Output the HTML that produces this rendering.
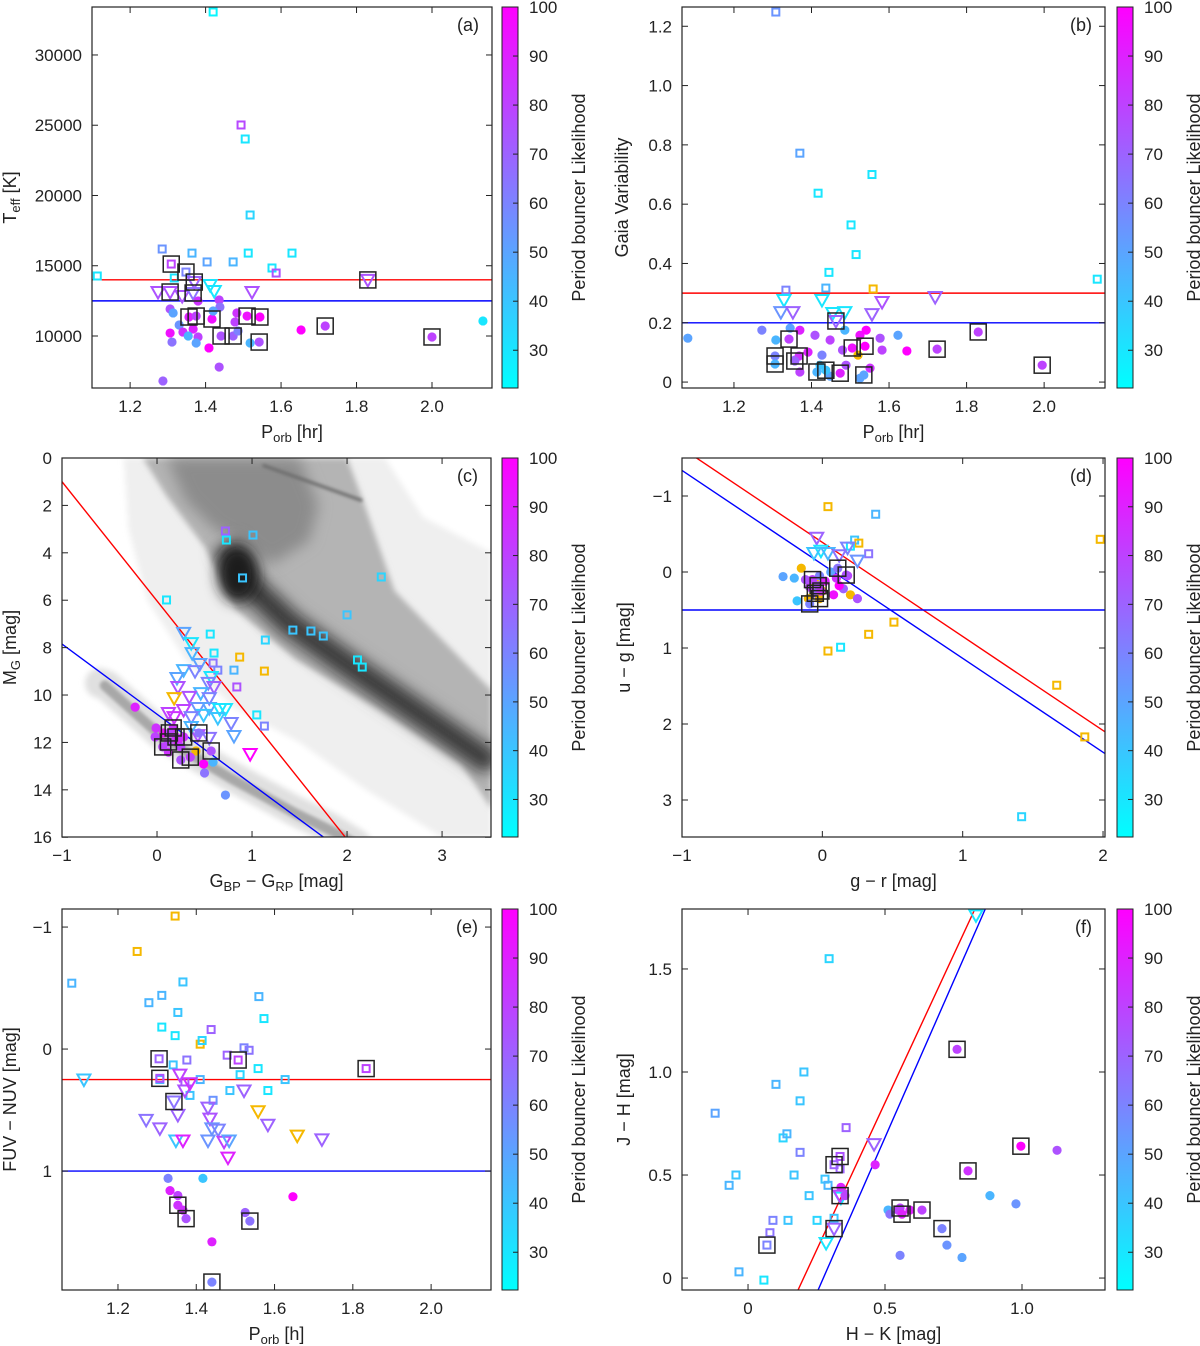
<!DOCTYPE html>
<html><head><meta charset="utf-8">
<style>
html,body{margin:0;padding:0;background:#fff;width:1200px;height:1346px;overflow:hidden;}
svg{display:block;font-family:"Liberation Sans",sans-serif;}
text{fill:#222;}
</style></head>
<body>
<svg id="fig" width="1200" height="1346" viewBox="0 0 1200 1346" xmlns="http://www.w3.org/2000/svg">
<defs>
<linearGradient id="cbgrad" x1="0" y1="1" x2="0" y2="0">
<stop offset="0" stop-color="#00ffff"/><stop offset="1" stop-color="#ff00ff"/>
</linearGradient>
<filter id="blur6" x="-50%" y="-50%" width="200%" height="200%"><feGaussianBlur stdDeviation="7"/></filter>
<filter id="blur3" x="-50%" y="-50%" width="200%" height="200%"><feGaussianBlur stdDeviation="3"/></filter>
<filter id="blur1"><feGaussianBlur stdDeviation="1.5"/></filter>
</defs>
</svg>
<script>
// ---------- Panel (a) data ----------
const aX = [1.42,1.494,1.505,1.518,1.285,1.364,1.404,1.473,1.513,1.629,1.317,1.576,1.587,1.309,1.348,1.274,1.306,1.338,1.367,1.370,1.412,1.423,1.523,1.83,1.113,1.380,1.436,1.306,1.314,1.438,1.356,1.375,1.417,1.42,1.483,1.51,1.544,1.478,1.33,1.367,1.306,1.311,1.34,1.354,1.38,1.375,1.441,1.473,1.486,1.518,1.542,1.409,1.653,1.717,1.436,1.287,2.0,2.135];
const aY = [33060,25017,24020,18610,16190,15900,15270,15270,15900,15900,14130,14840,14480,15120,14550,13130,13130,12850,13060,13840,13630,13200,13130,13990,14270,12490,12560,11920,11640,12060,11350,11420,11210,11780,11640,11420,11350,11000,10780,10500,10210,9570,10280,10000,9930,9500,10000,10000,10360,9500,9570,9150,10430,10710,7790,6800,9930,11070];
const aL = [25,78,30,35,55,45,50,45,30,30,30,30,75,80,60,75,75,75,65,70,30,30,75,75,30,85,80,75,50,65,90,80,95,50,85,95,100,80,55,90,95,65,85,45,80,50,75,70,60,45,75,100,100,80,75,70,80,30];
const aK = "sssssssssssssSSvVvVVvvvVsoooooOOOooOOoooooooooOOooOooOooOo";
// ---------- Panel (b) data ----------
const bX = [1.308,1.37,1.417,1.502,1.556,1.515,1.445,1.437,1.334,1.559,2.137, 1.329,1.321,1.352,1.427,1.455,1.486,1.582,1.556,1.719,1.463, 1.081,1.272,1.308,1.345,1.37,1.409,1.448,1.486,1.525,1.541,1.577,1.623,1.646,1.582,1.48,1.427,1.391,1.357,1.422,1.37,1.489,1.52,1.551,1.448,1.525, 1.505,1.538,1.306,1.306,1.368,1.357,1.342,1.414,1.437,1.474,1.535,1.724,1.83,1.995];
const bY = [1.248,0.772,0.637,0.53,0.70,0.43,0.37,0.317,0.31,0.314,0.347, 0.277,0.236,0.236,0.277,0.233,0.236,0.27,0.229,0.287,0.206, 0.148,0.175,0.142,0.182,0.175,0.158,0.142,0.175,0.158,0.175,0.148,0.158,0.105,0.108,0.108,0.091,0.101,0.074,0.057,0.034,0.057,0.091,0.047,0.02,0.013, 0.115,0.121,0.088,0.061,0.088,0.071,0.145,0.034,0.04,0.03,0.024,0.111,0.169,0.057];
const bL = [55,50,30,30,30,30,30,45,60,-1,30, 30,55,70,30,30,30,75,70,70,70, 50,60,45,50,90,75,80,45,95,100,75,50,100,80,75,60,90,70,40,80,75,-1,85,50,50, 95,100,60,45,85,70,80,45,40,90,50,80,80,80];
const bK = "s".repeat(11) + "v".repeat(9) + "V" + "o".repeat(25) + "O".repeat(14);
// ---------- Panel (c) data ----------
const cX = [0.72,0.73,1.01,0.90,0.10,2.36,0.56,1.14,1.43,1.62,1.75,2.00,2.11,2.16,0.60,0.87,0.59,0.64,0.81,1.13,0.84,1.05,1.13, -0.23,-0.01,-0.02,0.07,0.22,0.12,0.41,0.49,0.59,0.50,0.72,0.25, 0.28,0.36,0.37,0.45,0.28,0.40,0.21,0.57,0.54,0.22,0.60,0.46,0.55,0.34,0.18,0.43,0.55,0.66,0.72,0.28,0.12,0.49,0.36,0.18,0.78,0.64,0.81,0.43,0.55,0.98,0.36, 0.17,0.13,0.06,0.12,0.20,0.28,0.44,0.57,0.35,0.25];
const cY = [3.08,3.46,3.25,5.06,5.99,5.02,7.43,7.68,7.26,7.30,7.51,6.62,8.52,8.82,8.23,8.40,8.65,8.95,8.95,8.99,9.66,10.84,11.31, 10.51,11.39,11.77,11.60,12.03,12.41,12.36,12.91,12.83,13.29,14.22,12.19, 7.38,7.81,8.23,8.69,8.95,8.99,9.28,9.24,9.49,9.66,9.66,9.92,10.13,10.08,10.13,10.55,10.55,10.59,10.59,10.63,10.76,10.84,10.93,10.93,11.18,10.97,11.73,11.69,11.81,12.49,11.35, 11.39,11.60,12.19,11.98,11.77,11.77,11.60,12.36,12.62,12.74];
const cL = [70,30,40,40,30,35,30,35,40,40,40,40,30,30,30,-1,65,60,45,-1,75,30,60, 90,85,80,95,90,85,-1,100,45,65,55,80, 50,30,45,50,45,60,50,30,60,75,70,45,60,75,-1,55,50,30,30,80,80,40,60,85,60,40,50,75,65,100,45, 85,80,80,80,85,85,65,75,80,75];
const cK = "s".repeat(23) + "o".repeat(12) + "v".repeat(31) + "O".repeat(10);
// ---------- Panel (d) data ----------
const dX = [0.04,0.38,0.23,0.26,0.33,0.20,1.98,0.51,0.33,0.13,0.04,1.67,1.87,1.42, -0.04,-0.01,0.04,0.18,0.12,-0.06,0.25, -0.28,-0.2,-0.15,-0.12,-0.09,-0.05,-0.02,0.02,0.06,0.1,0.15,0.2,0.25,0.08,-0.18,-0.1,0.0,0.12,0.18, -0.07,-0.03,-0.05,-0.02,-0.09,0.11,0.17,-0.01];
const dY = [-0.86,-0.76,-0.42,-0.38,-0.24,-0.34,-0.43,0.66,0.82,0.99,1.04,1.49,2.17,3.22, -0.45,-0.28,-0.25,-0.32,-0.22,-0.25,-0.15, 0.06,0.08,-0.05,0.1,0.2,0.15,0.05,0.12,0.0,0.08,0.22,0.3,0.35,0.3,0.38,0.35,0.25,0.18,0.05, 0.1,0.18,0.28,0.35,0.42,-0.05,0.04,0.25];
const dL = [-1,45,40,-1,65,30,-1,-1,-1,30,-1,-1,-1,35, 70,30,45,60,65,40,55, 50,45,-1,75,80,-1,60,90,50,85,70,-1,75,95,40,-1,-1,100,80, 80,75,70,-1,60,65,75,85];
const dK = "s".repeat(14) + "v".repeat(7) + "o".repeat(19) + "O".repeat(8);
// ---------- Panel (e) data ----------
const eX = [1.346,1.249,1.082,1.279,1.312,1.366,1.353,1.312,1.346,1.438,1.41,1.415,1.376,1.479,1.535,1.56,1.573,1.522,1.558,1.512,1.583,1.627,1.486,1.41,1.443,1.371,1.384,1.307,1.341, 1.113,1.272,1.307,1.353,1.348,1.366,1.43,1.435,1.44,1.456,1.43,1.471,1.481,1.484,1.522,1.558,1.583,1.658,1.721,1.358,1.371,1.384, 1.328,1.333,1.353,1.417,1.525,1.647,1.44,1.366, 1.305,1.307,1.343,1.507,1.834,1.353,1.374,1.537,1.44];
const eY = [-1.09,-0.80,-0.54,-0.38,-0.44,-0.55,-0.30,-0.18,-0.11,-0.16,-0.04,-0.07,0.09,0.05,0.01,-0.43,-0.25,-0.01,0.16,0.21,0.34,0.25,0.34,0.25,0.42,0.27,0.38,0.25,0.13, 0.25,0.58,0.65,0.54,0.75,0.75,0.48,0.57,0.65,0.66,0.75,0.76,0.89,0.75,0.34,0.51,0.62,0.71,0.74,0.21,0.34,0.28, 1.06,1.16,1.20,1.06,1.34,1.21,1.58,1.32, 0.08,0.24,0.43,0.09,0.16,1.28,1.39,1.41,1.91];
const eL = [-1,-1,45,45,45,40,40,30,30,70,-1,35,65,70,65,45,30,60,30,35,30,40,40,45,55,75,40,45,40, 40,65,70,70,40,90,70,75,55,60,55,80,90,50,70,-1,70,-1,70,80,75,85, 60,90,80,40,70,100,90,85, 70,75,65,80,80,85,75,65,60];
const eK = "s".repeat(29) + "v".repeat(22) + "o".repeat(8) + "SSVSSOOOO";
// ---------- Panel (f) data ----------
const fX = [-0.12,-0.069,-0.033,0.058,-0.044,0.102,0.128,0.142,0.168,0.19,0.204,0.19,0.223,0.296,0.358,0.252,0.281,0.314,0.08,0.091,0.146,0.292,0.336, 0.46,0.285,0.339,0.832, 0.464,0.511,0.518,0.547,0.591,0.555,0.726,0.781,0.883,0.978,1.128,0.354,0.339, 0.069,0.314,0.336,0.336,0.314,0.763,0.803,0.555,0.562,0.635,0.708,0.996];
const fY = [0.80,0.45,0.03,-0.01,0.50,0.94,0.68,0.70,0.50,0.61,1.0,0.86,0.40,1.55,0.73,0.28,0.48,0.29,0.22,0.28,0.28,0.45,0.53, 0.65,0.17,0.39,1.76, 0.55,0.33,0.31,0.33,0.33,0.11,0.16,0.10,0.40,0.36,0.62,0.40,0.44, 0.16,0.55,0.59,0.40,0.24,1.11,0.52,0.34,0.31,0.33,0.24,0.64];
const fL = [50,45,45,30,40,45,35,45,40,60,40,40,40,35,70,35,40,40,65,60,40,45,70, 70,30,30,30, 90,45,65,80,90,60,55,50,45,55,75,80,90, 60,70,75,80,70,80,85,80,90,80,60,100];
const fK = "s".repeat(23) + "v".repeat(4) + "o".repeat(13) + "SSSVVOOOOOOO";

const NS = 'http://www.w3.org/2000/svg';
const svg = document.getElementById('fig');
function mk(tag, parent, attrs){
  const e = document.createElementNS(NS, tag);
  if (attrs) for (const k in attrs) e.setAttribute(k, attrs[k]);
  (parent || svg).appendChild(e);
  return e;
}
const LMIN = 22.3, LMAX = 100;
function col(L){
  if (L < 0) return '#f5b800';
  const t = Math.max(0, Math.min(1, (L - LMIN) / (LMAX - LMIN)));
  return 'rgb(' + Math.round(255*t) + ',' + Math.round(255*(1-t)) + ',255)';
}

function panel(P){
  const g = mk('g');
  
  
  const [x0,y0,x1,y1] = P.box;
  const sx = v => x0 + (v - P.xd[0]) / (P.xd[1] - P.xd[0]) * (x1 - x0);
  const sy = v => y0 + (v - P.yd[0]) / (P.yd[1] - P.yd[0]) * (y1 - y0);
  const cid = 'clip-' + P.id;
  const cp = mk('clipPath', g, {id: cid});
  mk('rect', cp, {x:x0, y:y0, width:x1-x0, height:y1-y0});
  const inner = mk('g', g, {'clip-path': 'url(#' + cid + ')'});
  
  
  if (P.bg) P.bg(inner, sx, sy);
  P.lines.forEach((ln, i) => {
    let xa = P.xd[0], xb = P.xd[1], ya, yb;
    if (ln.h !== undefined) { ya = yb = ln.h; } else { ya = ln.m*xa + ln.c; yb = ln.m*xb + ln.c; }
    const l = mk('line', inner, {x1:sx(xa), y1:sy(ya), x2:sx(xb), y2:sy(yb), stroke:ln.color, 'stroke-width':1.4});
    
    
  });
  const boxes = [];
  const n = Math.min(P.X.length, P.Y.length, P.L.length);
  for (let i = 0; i < n; i++) {
    const px = sx(P.X[i]), py = sy(P.Y[i]), k = P.K[i] || 'o', c = col(P.L[i]);
    const kl = k.toLowerCase();
    let m;
    if (kl === 'o') {
      m = mk('circle', inner, {cx:px, cy:py, r:4.6, fill:c});
      
    } else if (kl === 's') {
      m = mk('rect', inner, {x:px-3.5, y:py-3.5, width:7, height:7, fill:'none', stroke:c, 'stroke-width':2});
      
    } else {
      m = mk('polygon', inner, {points:(px-6.5)+','+(py-5)+' '+(px+6.5)+','+(py-5)+' '+px+','+(py+6.5), fill:'none', stroke:c, 'stroke-width':2});
      
    }
    
    if (k !== kl) boxes.push([px, py]);
  }
  boxes.forEach(b => {
    const r = mk('rect', inner, {x:b[0]-8, y:b[1]-8, width:16, height:16, fill:'none', stroke:'#222', 'stroke-width':1.5});
    
    
  });
  const fr = mk('rect', g, {x:x0, y:y0, width:x1-x0, height:y1-y0, fill:'none', stroke:'#222', 'stroke-width':1.2});
  
  
  const xg = mk('g', g);
  
  
  P.xt.forEach((v, i) => {
    const px = sx(v);
    mk('line', xg, {x1:px, y1:y1, x2:px, y2:y1-6, stroke:'#222', 'stroke-width':1});
    mk('line', xg, {x1:px, y1:y0, x2:px, y2:y0+6, stroke:'#222', 'stroke-width':1});
    const t = mk('text', xg, {x:px, y:y1+24, 'text-anchor':'middle', 'font-size':17});
    t.textContent = P.xtl[i];
    
    
  });
  const yg = mk('g', g);
  
  
  P.yt.forEach((v, i) => {
    const py = sy(v);
    mk('line', yg, {x1:x0, y1:py, x2:x0+6, y2:py, stroke:'#222', 'stroke-width':1});
    mk('line', yg, {x1:x1, y1:py, x2:x1-6, y2:py, stroke:'#222', 'stroke-width':1});
    const t = mk('text', yg, {x:x0-10, y:py+6, 'text-anchor':'end', 'font-size':17});
    t.textContent = P.ytl[i];
    
    
  });
  const xtit = mk('text', g, {x:(x0+x1)/2, y:y1+50, 'text-anchor':'middle', 'font-size':18});
  xtit.innerHTML = P.xlabel;
  
  
  const ytit = mk('text', g, {x:0, y:0, 'text-anchor':'middle', 'font-size':18, transform:'translate(' + P.ylx + ',' + ((y0+y1)/2) + ') rotate(-90)'});
  ytit.innerHTML = P.ylabel;
  
  
  const pl = mk('text', g, {x:x1-13, y:y0+24, 'text-anchor':'end', 'font-size':18});
  pl.textContent = '(' + P.id + ')';
  
  
  const cb = mk('g', g);
  
  
  const cx = P.cbx;
  mk('rect', cb, {x:cx, y:y0, width:16, height:y1-y0, fill:'url(#cbgrad)', stroke:'#222', 'stroke-width':1});
  const cs = v => y1 - (v - LMIN) / (LMAX - LMIN) * (y1 - y0);
  [30,40,50,60,70,80,90,100].forEach(v => {
    const py = cs(v);
    mk('line', cb, {x1:cx+16, y1:py, x2:cx+11, y2:py, stroke:'#222', 'stroke-width':1});
    const t = mk('text', cb, {x:cx+27, y:py+6, 'font-size':17});
    t.textContent = v;
    
    
  });
  const ct = mk('text', cb, {x:0, y:0, 'text-anchor':'middle', 'font-size':18, transform:'translate(' + (cx+83) + ',' + ((y0+y1)/2) + ') rotate(-90)'});
  ct.textContent = 'Period bouncer Likelihood';
  
  
}

const sub = s => '<tspan font-size="13" dy="4">' + s + '</tspan><tspan dy="-4"> </tspan>';
const porbTicks = [1.2,1.4,1.6,1.8,2.0], porbLbl = ['1.2','1.4','1.6','1.8','2.0'];

panel({id:'a', box:[92,7,492,388], xd:[1.099,2.159], yd:[33414,6299],
  xt:porbTicks, xtl:porbLbl, yt:[10000,15000,20000,25000,30000], ytl:['10000','15000','20000','25000','30000'],
  X:aX, Y:aY, L:aL, K:aK, lines:[{h:14000,color:'red'},{h:12500,color:'blue'}],
  xlabel:'P' + sub('orb') + '[hr]', ylabel:'T' + sub('eff') + '[K]', ylx:16, cbx:502});

panel({id:'b', box:[682,7,1105,388], xd:[1.066,2.157], yd:[1.265,-0.02],
  xt:porbTicks, xtl:porbLbl, yt:[0,0.2,0.4,0.6,0.8,1.0,1.2], ytl:['0','0.2','0.4','0.6','0.8','1.0','1.2'],
  X:bX, Y:bY, L:bL, K:bK, lines:[{h:0.3,color:'red'},{h:0.2,color:'blue'}],
  xlabel:'P' + sub('orb') + '[hr]', ylabel:'Gaia Variability', ylx:628, cbx:1117});

panel({id:'c', box:[62,458,491,837], xd:[-1,3.515], yd:[0,15.99],
  xt:[-1,0,1,2,3], xtl:['\u22121','0','1','2','3'], yt:[0,2,4,6,8,10,12,14,16], ytl:['0','2','4','6','8','10','12','14','16'],
  X:cX, Y:cY, L:cL, K:cK, lines:[{m:5.03,c:6.03,color:'red'},{m:2.96,c:10.81,color:'blue'}],
  xlabel:'G' + sub('BP') + '\u2212 G' + sub('RP') + '[mag]', ylabel:'M' + sub('G') + '[mag]', ylx:16, cbx:502,
  bg:(g, sx, sy) => {
    const poly = (pts, attrs) => {
      const p = mk('polygon', g, attrs);
      p.setAttribute('points', pts.map(q => sx(q[0]) + ',' + sy(q[1])).join(' '));
      return p;
    };
    const pl = (pts, attrs) => {
      const p = mk('polyline', g, attrs);
      p.setAttribute('points', pts.map(q => sx(q[0]) + ',' + sy(q[1])).join(' '));
      return p;
    };
    poly([[-0.35,0],[2.4,0],[2.8,2.5],[3.52,4],[3.52,16],[3.0,16],[2.2,14],[1.5,12],[0.8,10.5],[0.3,8.5],[-0.1,6],[-0.3,3]], {fill:'#efefef', filter:'url(#blur3)'});
    pl([[-0.6,9.5],[-0.53,9.6],[0.06,11.7],[0.77,13.4],[1.46,14.9],[1.82,15.6],[2.1,16.3]], {fill:'none', stroke:'#e0e0e0', 'stroke-width':30, 'stroke-linecap':'round', filter:'url(#blur3)'});
    pl([[-0.55,9.6],[0.06,11.8],[0.77,13.5],[1.46,15.0],[1.82,15.7],[2.1,16.3]], {fill:'none', stroke:'#a8a8a8', 'stroke-width':10, 'stroke-linecap':'round', filter:'url(#blur1)'});
    poly([[-0.15,0],[2.0,0],[2.16,1.7],[2.5,5.6],[3.52,9.8],[3.52,14.8],[3.2,12.9],[2.34,10.6],[1.46,8.5],[0.83,6.4],[0.51,3.8],[0.1,1.6]], {fill:'#b4b4b4', filter:'url(#blur3)'});
    poly([[0.1,0],[1.5,0],[1.7,2],[1.6,3.5],[1.2,4.5],[0.9,3.6],[0.6,3.0],[0.3,1.8]], {fill:'#8c8c8c', filter:'url(#blur6)'});
    pl([[0.72,3.6],[0.95,5.3],[1.4,7.0],[2.0,8.7],[2.8,10.9],[3.52,12.9]], {fill:'none', stroke:'#666', 'stroke-width':30, filter:'url(#blur6)'});
    pl([[0.75,4.0],[0.98,5.4],[1.4,7.0],[2.0,8.7],[2.8,10.9],[3.52,12.9]], {fill:'none', stroke:'#2a2a2a', 'stroke-width':11, filter:'url(#blur6)'});
    mk('ellipse', g, {cx:sx(0.85), cy:sy(4.9), rx:20, ry:28, fill:'#1a1a1a', filter:'url(#blur6)'});
    pl([[1.11,0.3],[1.6,1.0],[2.16,1.8]], {fill:'none', stroke:'#6a6a6a', 'stroke-width':3, filter:'url(#blur1)'});
  }
});

panel({id:'d', box:[682,458,1105,837], xd:[-1,2.014], yd:[-1.5,3.487],
  xt:[-1,0,1,2], xtl:['\u22121','0','1','2'], yt:[-1,0,1,2,3], ytl:['\u22121','0','1','2','3'],
  X:dX, Y:dY, L:dL, K:dK, lines:[{m:1.238,c:-0.39,color:'red'},{m:1.236,c:-0.10,color:'blue'},{h:0.5,color:'blue'}],
  xlabel:'g \u2212 r [mag]', ylabel:'u \u2212 g [mag]', ylx:630, cbx:1117});

panel({id:'e', box:[62,909,491,1290], xd:[1.057,2.153], yd:[-1.148,1.975],
  xt:porbTicks, xtl:porbLbl, yt:[-1,0,1], ytl:['\u22121','0','1'],
  X:eX, Y:eY, L:eL, K:eK, lines:[{h:0.25,color:'red'},{h:1.0,color:'blue'}],
  xlabel:'P' + sub('orb') + '[h]', ylabel:'FUV \u2212 NUV [mag]', ylx:16, cbx:502});

panel({id:'f', box:[682,909,1105,1290], xd:[-0.241,1.303], yd:[1.791,-0.058],
  xt:[0,0.5,1.0], xtl:['0','0.5','1.0'], yt:[0,0.5,1.0,1.5], ytl:['0','0.5','1.0','1.5'],
  X:fX, Y:fY, L:fL, K:fK, lines:[{m:2.864,c:-0.581,color:'red'},{m:3.03,c:-0.833,color:'blue'}],
  xlabel:'H \u2212 K [mag]', ylabel:'J \u2212 H [mag]', ylx:630, cbx:1117});
</script>
</body></html>
